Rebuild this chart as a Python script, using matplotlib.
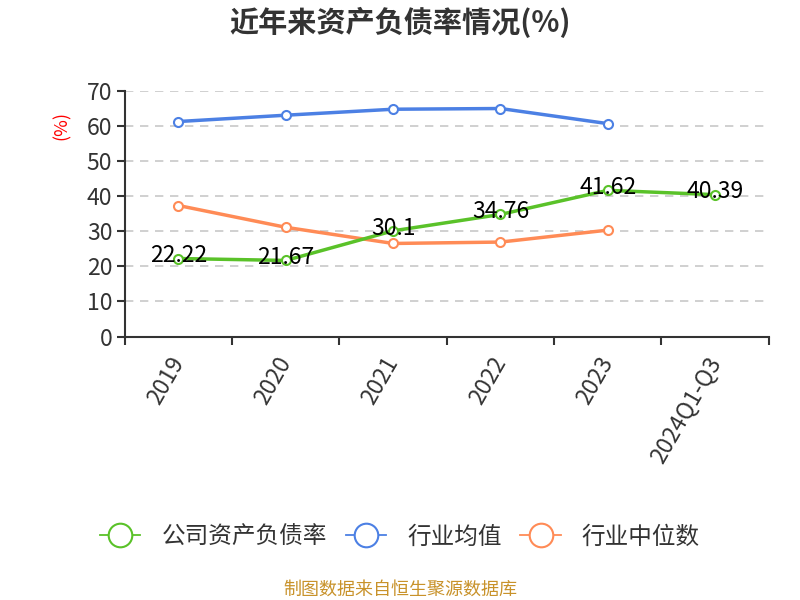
import numpy as np
import matplotlib
matplotlib.use("Agg")
import matplotlib.pyplot as plt
from matplotlib.ticker import FixedLocator, NullFormatter

plt.rcParams['font.family'] = ['Noto Sans CJK SC', 'DejaVu Sans']

# 数据
years = ["2019", "2020", "2021", "2022", "2023", "2024Q1-Q3"]
company = [22.22, 21.67, 30.1, 34.76, 41.62, 40.39]
ind_avg = [61.2, 63.0, 64.7, 64.9, 60.6]
ind_median = [37.3, 31.1, 26.5, 26.9, 30.3]

c_green = '#5ac229'
c_blue = '#4c80e4'
c_orange = '#ff8b56'

fig = plt.figure(figsize=(8, 6), dpi=100)
ax = fig.add_axes([0.156, 0.439, 0.805, 0.41])

x = np.arange(len(years))
mk = dict(marker='o', markersize=6.5, markerfacecolor='white', markeredgewidth=1.5, lw=2.5)
l1, = ax.plot(x, company, color=c_green, zorder=4, **mk)
l2, = ax.plot(x[:len(ind_avg)], ind_avg, color=c_blue, zorder=3, **mk)
l3, = ax.plot(x[:len(ind_median)], ind_median, color=c_orange, zorder=3, **mk)

# 数据标签
for xi, v in zip(x, company):
    ax.annotate(f"{v:g}", (xi, v), xytext=(0, 2), textcoords='offset points',
                ha='center', va='center', fontsize=16.5, color='black', zorder=5)

ax.set_xlim(-0.5, len(years) - 0.5)
ax.set_ylim(0, 70)
ax.set_yticks(np.arange(0, 71, 10))
ax.yaxis.grid(True, linestyle=(0, (5, 4)), color='#c8c8c8', lw=1.2)
ax.set_axisbelow(True)

ax.set_xticks(x)
ax.set_xticklabels(years, rotation=60, ha='right', va='center', rotation_mode='anchor')
ax.xaxis.set_minor_locator(FixedLocator(np.arange(-0.5, len(years), 1)))
ax.xaxis.set_minor_formatter(NullFormatter())
ax.tick_params(axis='x', which='major', length=0, pad=16, labelsize=16.5, labelcolor='#333333')
ax.tick_params(axis='x', which='minor', length=6, width=1.5, color='#333333')
ax.tick_params(axis='y', length=6, width=1.5, color='#333333', labelsize=16.5, labelcolor='#333333', pad=3)

for s in ['top', 'right']:
    ax.spines[s].set_visible(False)
for s in ['left', 'bottom']:
    ax.spines[s].set_color('#333333')
    ax.spines[s].set_linewidth(1.5)

ax.set_ylabel("(%)", color='red', fontsize=13, labelpad=4)
ax.yaxis.set_label_coords(-0.083, 0.857)

fig.text(0.5, 0.962, "近年来资产负债率情况(%)", ha='center', va='center',
         fontsize=21, fontweight='bold', color='#333333')

leg = fig.legend([l1, l2, l3], ["公司资产负债率", "行业均值", "行业中位数"],
                 loc='center', bbox_to_anchor=(0.5, 0.105), ncol=3, frameon=False,
                 fontsize=17, handlelength=1.7, columnspacing=0.8, handletextpad=0.9,
                 labelcolor='#333333')
for h in leg.legend_handles:
    h.set_markersize(17)
    h.set_linewidth(1.3)

fig.text(0.5, 0.017, "制图数据来自恒生聚源数据库", ha='center', va='center',
         fontsize=13, color='#c8922a')

fig.savefig("out.png", dpi=100)
